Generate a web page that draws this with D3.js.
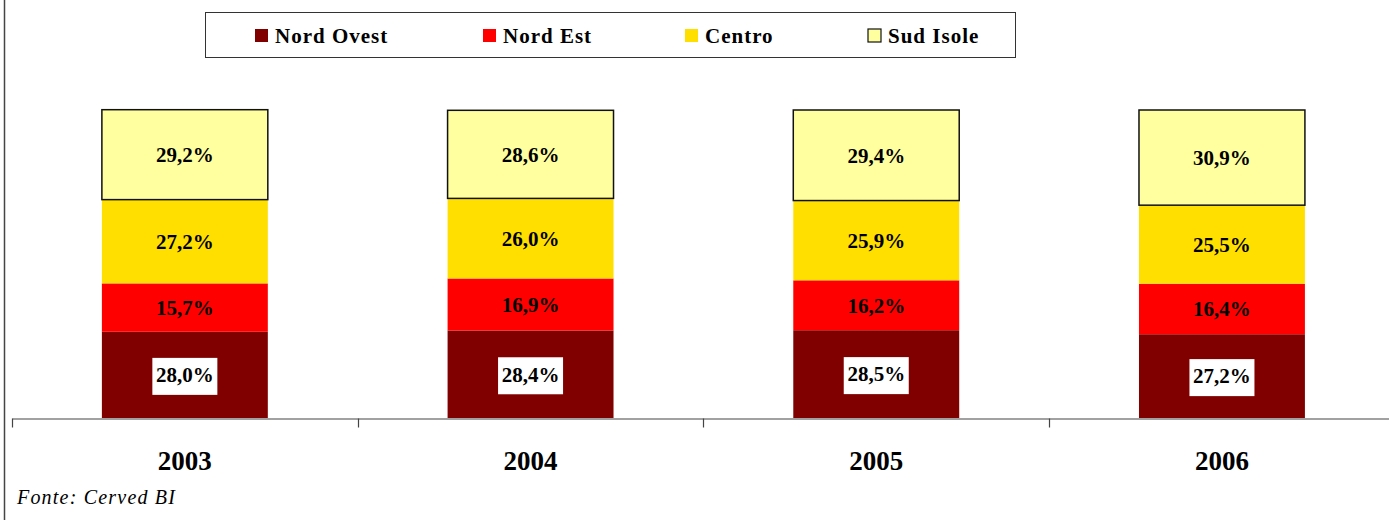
<!DOCTYPE html>
<html>
<head>
<meta charset="utf-8">
<script src="https://cdn.jsdelivr.net/npm/d3@7"></script>
<style>
  body { margin: 0; background: #fff; }
  svg { display: block; font-family: "Liberation Serif", "Times New Roman", serif; }
</style>
</head>
<body>
<div id="chart"></div>
<script>
// Data (percent shares per year)
const years = ['2003', '2004', '2005', '2006'];
const series = ['Nord Ovest', 'Nord Est', 'Centro', 'Sud Isole'];
const nordOvest = [28.0, 28.4, 28.5, 27.2];
const nordEst = [15.7, 16.9, 16.2, 16.4];
const centro = [27.2, 26.0, 25.9, 25.5];
const sudIsole = [29.2, 28.6, 29.4, 30.9];
const colors = ['#800000', '#ff0000', '#ffdf00', '#ffffa0'];

const width = 1389;
const height = 520;

const svg = d3.select('#chart')
    .append('svg')
    .attr('width', width)
    .attr('height', height);

// left frame line
svg.append('line')
    .attr('x1', 4.5).attr('x2', 4.5)
    .attr('y1', 0).attr('y2', height)
    .attr('stroke', '#444').attr('stroke-width', 1.5);

// build table for stacking
const table = years.map((y, i) => ({
    year: y,
    'Nord Ovest': nordOvest[i],
    'Nord Est': nordEst[i],
    'Centro': centro[i],
    'Sud Isole': sudIsole[i]
}));

const stacked = d3.stack().keys(series)(table);

const x = d3.scaleBand()
    .domain(years)
    .range([12, 12 + 4 * 345.7])
    .paddingInner(0.52)
    .paddingOuter(0.26);

const xTicks = d3.scaleBand().domain(years).range([12, 12 + 4 * 345.7]);

const y = d3.scaleLinear()
    .domain([0, 100])
    .range([418, 110]);

const fmt = v => d3.format('.1f')(v).replace('.', ',') + '%';

// bars
const layers = svg.append('g')
    .selectAll('g')
    .data(stacked)
    .enter()
    .append('g')
    .attr('fill', (d, i) => colors[i]);

layers.selectAll('rect')
    .data(d => d.map(p => ({ key: d.key, p })))
    .enter()
    .append('rect')
    .attr('x', d => x(d.p.data.year))
    .attr('y', d => y(d.p[1]))
    .attr('width', x.bandwidth())
    .attr('height', d => y(d.p[0]) - y(d.p[1]))
    .attr('stroke', d => d.key === 'Sud Isole' ? '#111' : 'none')
    .attr('stroke-width', 1.5);

// labels
stacked.forEach(layer => {
    layer.forEach(p => {
        const cx = x(p.data.year) + x.bandwidth() / 2;
        const cy = (y(p[0]) + y(p[1])) / 2;
        const val = p[1] - p[0];
        if (layer.key === 'Nord Ovest') {
            svg.append('rect')
                .attr('x', cx - 32.5)
                .attr('y', cy - 17)
                .attr('width', 65)
                .attr('height', 37)
                .attr('fill', '#fff');
        }
        svg.append('text')
            .attr('x', cx)
            .attr('y', cy)
            .attr('dy', '0.35em')
            .attr('text-anchor', 'middle')
            .attr('font-weight', 'bold')
            .attr('font-size', 21)
            .attr('fill', '#000')
            .text(fmt(val));
    });
});

// x axis
const axis = d3.axisBottom(xTicks)
    .tickSize(0)
    .tickFormat('');

const gAxis = svg.append('g')
    .attr('transform', 'translate(0,418.5)')
    .call(axis);
gAxis.select('.domain').attr('stroke', '#444').attr('stroke-width', 1.2);

// tick marks at band boundaries
gAxis.selectAll('.bound')
    .data(years)
    .enter()
    .append('line')
    .attr('x1', d => Math.round(xTicks(d)) + 0.5)
    .attr('x2', d => Math.round(xTicks(d)) + 0.5)
    .attr('y1', 0)
    .attr('y2', 9)
    .attr('stroke', '#444')
    .attr('stroke-width', 1.2);

// year labels
svg.append('g')
    .selectAll('text')
    .data(years)
    .enter()
    .append('text')
    .attr('x', d => xTicks(d) + xTicks.bandwidth() / 2)
    .attr('y', 470)
    .attr('text-anchor', 'middle')
    .attr('font-weight', 'bold')
    .attr('font-size', 27)
    .text(d => d);

// legend
const legend = svg.append('g');
legend.append('rect')
    .attr('x', 205.5).attr('y', 12.5)
    .attr('width', 810).attr('height', 45)
    .attr('fill', '#fff')
    .attr('stroke', '#333')
    .attr('stroke-width', 1);

const legendX = [255, 483, 685, 868];
series.forEach((s, i) => {
    legend.append('rect')
        .attr('x', legendX[i])
        .attr('y', 29)
        .attr('width', 13)
        .attr('height', 13)
        .attr('fill', colors[i])
        .attr('stroke', s === 'Sud Isole' ? '#111' : 'none')
        .attr('stroke-width', 1.2);
    legend.append('text')
        .attr('x', legendX[i] + 20)
        .attr('y', 43)
        .attr('font-weight', 'bold')
        .attr('font-size', 21)
        .attr('letter-spacing', 1)
        .text(s);
});

// source note
svg.append('text')
    .attr('x', 17)
    .attr('y', 504)
    .attr('font-style', 'italic')
    .attr('font-size', 20)
    .attr('letter-spacing', 1.2)
    .text('Fonte: Cerved BI');
</script>
</body>
</html>
